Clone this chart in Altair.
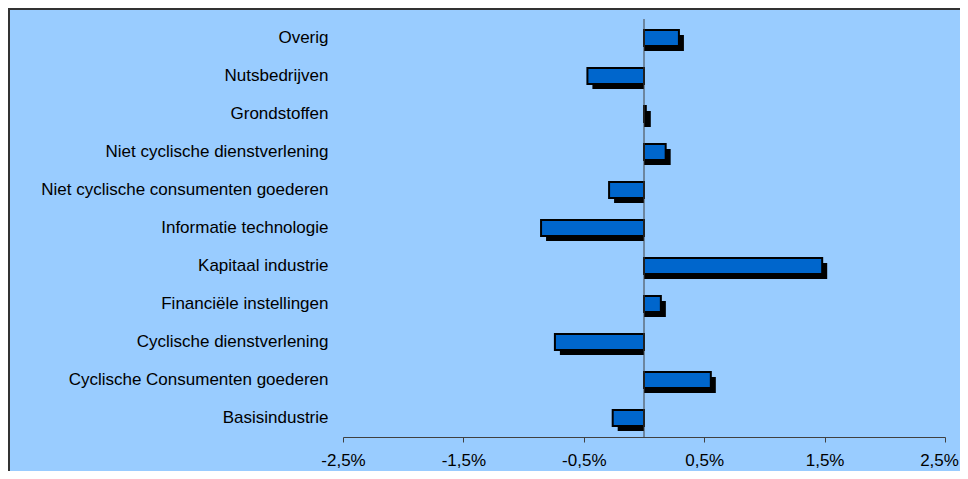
import altair as alt
import pandas as pd

categories = [
    "Overig",
    "Nutsbedrijven",
    "Grondstoffen",
    "Niet cyclische dienstverlening",
    "Niet cyclische consumenten goederen",
    "Informatie technologie",
    "Kapitaal industrie",
    "Financiële instellingen",
    "Cyclische dienstverlening",
    "Cyclische Consumenten goederen",
    "Basisindustrie",
]
values = [0.29, -0.47, 0.015, 0.18, -0.29, -0.855, 1.48, 0.14, -0.74, 0.555, -0.26]
tick_values = [-2.5, -1.5, -0.5, 0.5, 1.5, 2.5]

df = pd.DataFrame({"cat": categories, "val": values})

FONT = "Liberation Sans"

label_expr = "(datum.value < 0 ? '-' : '') + replace(format(abs(datum.value), '.1f'), '.', ',') + '%'"

x_enc = alt.X(
    "val:Q",
    scale=alt.Scale(domain=[-2.5, 2.5], nice=False, zero=False),
    axis=alt.Axis(
        values=tick_values,
        labelExpr=label_expr,
        grid=False,
        title=None,
        domainColor="#404040",
        tickColor="#404040",
        tickSize=5,
        labelFont=FONT,
        labelFontSize=17,
        labelColor="#000000",
        labelPadding=10,
        labelFlush=False,
        labelOffset={"condition": {"test": "datum.value >= 2.5", "value": -6}, "value": 0},
    ),
)
y_enc = alt.Y(
    "cat:N",
    sort=categories,
    scale=alt.Scale(paddingInner=0, paddingOuter=0),
    axis=alt.Axis(
        domain=False,
        ticks=False,
        grid=False,
        title=None,
        labelFont=FONT,
        labelFontSize=17,
        labelColor="#000000",
        labelPadding=15,
        labelLimit=400,
    ),
)

shadow = alt.Chart(df).mark_bar(
    color="#000000", size=16, xOffset=5, yOffset=5
).encode(x=x_enc, x2=alt.datum(0), y=y_enc)

bars = alt.Chart(df).mark_bar(
    fill="#0066CC", stroke="#000000", strokeWidth=2, size=16
).encode(x=x_enc, x2=alt.datum(0), y=y_enc)

zero = alt.Chart(pd.DataFrame({"z": [0]})).mark_rule(
    color="#404040", strokeWidth=1
).encode(x=alt.X("z:Q"))

border_top = alt.Chart(pd.DataFrame({"b": [0]})).mark_rule(
    color="#333333", strokeWidth=2
).encode(x=alt.value(-335), x2=alt.value(700), y=alt.value(-10))

border_left = alt.Chart(pd.DataFrame({"b": [0]})).mark_rule(
    color="#333333", strokeWidth=2
).encode(x=alt.value(-334), y=alt.value(-11), y2=alt.value(480))

chart = (
    alt.layer(shadow, bars, zero, border_top, border_left)
    .properties(
        width=602,
        height=418,
        autosize=alt.AutoSizeParams(type="none"),
        padding={"left": 335, "top": 11, "right": 15, "bottom": 34},
        background="#99CCFF",
    )
    .configure_view(stroke=None)
)

chart.save("out.html", embed_options={"renderer": "svg", "actions": False})
